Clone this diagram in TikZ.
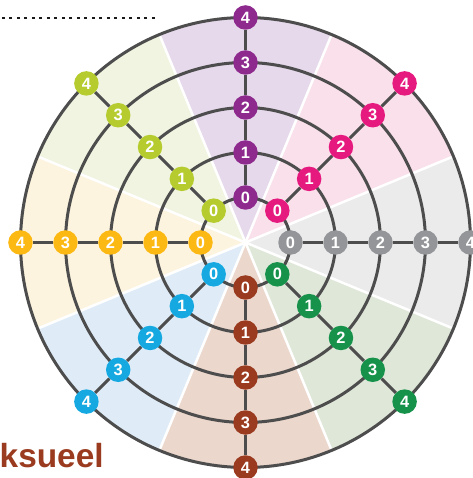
\documentclass[tikz,border=0pt]{standalone}
\usepackage{fontspec}
\setsansfont{Liberation Sans}

\definecolor{ringgray}{HTML}{4D4D4D}
\definecolor{purpnode}{HTML}{8E2A8D}
\definecolor{purpbg}{HTML}{E6D9EB}
\definecolor{magnode}{HTML}{E6197F}
\definecolor{magbg}{HTML}{F9E0EA}
\definecolor{graynode}{HTML}{939598}
\definecolor{graybg}{HTML}{EBEBEB}
\definecolor{grnnode}{HTML}{16924B}
\definecolor{grnbg}{HTML}{DFE7D8}
\definecolor{brnnode}{HTML}{9A3A1E}
\definecolor{brnbg}{HTML}{EBD7CC}
\definecolor{blunode}{HTML}{16A9E1}
\definecolor{blubg}{HTML}{DFECF8}
\definecolor{yelnode}{HTML}{FDB913}
\definecolor{yelbg}{HTML}{FDF4DF}
\definecolor{limnode}{HTML}{B6CC2E}
\definecolor{limbg}{HTML}{F0F4E0}

\tikzset{
 ring/.style={draw=ringgray,line width=3pt},
 spoke/.style={draw=ringgray,line width=3pt},
 gap/.style={draw=white,line width=2.5pt},
 numdot/.style={shape=circle,inner sep=0pt,minimum size=24.5pt,text=white,
   font=\sffamily\bfseries\fontsize{16.4}{16}\selectfont},
 dotrow/.style={draw=black!90,line width=2.7pt,dash pattern=on 2.7pt off 4.8pt},
}

\begin{document}
\begin{tikzpicture}[x=45pt,y=45pt]
 \useasboundingbox (-245.5pt,-235.5pt) rectangle (226.5pt,242.5pt);
 \coordinate (ctr) at (0,0);
 % sectors
 \fill[purpbg] (ctr) -- (67.5:5) arc[start angle=67.5,end angle=112.5,radius=5] -- cycle;
 \fill[magbg] (ctr) -- (22.5:5) arc[start angle=22.5,end angle=67.5,radius=5] -- cycle;
 \fill[graybg] (ctr) -- (-22.5:5) arc[start angle=-22.5,end angle=22.5,radius=5] -- cycle;
 \fill[grnbg] (ctr) -- (-67.5:5) arc[start angle=-67.5,end angle=-22.5,radius=5] -- cycle;
 \fill[brnbg] (ctr) -- (-112.5:5) arc[start angle=-112.5,end angle=-67.5,radius=5] -- cycle;
 \fill[blubg] (ctr) -- (-157.5:5) arc[start angle=-157.5,end angle=-112.5,radius=5] -- cycle;
 \fill[yelbg] (ctr) -- (157.5:5) arc[start angle=157.5,end angle=202.5,radius=5] -- cycle;
 \fill[limbg] (ctr) -- (112.5:5) arc[start angle=112.5,end angle=157.5,radius=5] -- cycle;
 % white gaps
 \draw[gap] (ctr) -- (22.5:5);
 \draw[gap] (ctr) -- (67.5:5);
 \draw[gap] (ctr) -- (112.5:5);
 \draw[gap] (ctr) -- (157.5:5);
 \draw[gap] (ctr) -- (202.5:5);
 \draw[gap] (ctr) -- (247.5:5);
 \draw[gap] (ctr) -- (292.5:5);
 \draw[gap] (ctr) -- (337.5:5);
 % rings
 \draw[ring] (ctr) circle (1);
 \draw[ring] (ctr) circle (2);
 \draw[ring] (ctr) circle (3);
 \draw[ring] (ctr) circle (4);
 \draw[ring] (ctr) circle (5);
 % purple
 \node (pur 0) at (90:1) [numdot,fill=purpnode] {0};
 \node (pur 1) at (90:2) [numdot,fill=purpnode] {1};
 \node (pur 2) at (90:3) [numdot,fill=purpnode] {2};
 \node (pur 3) at (90:4) [numdot,fill=purpnode] {3};
 \node (pur 4) at (90:5) [numdot,fill=purpnode] {4};
 % magenta
 \node (mag 0) at (45:1) [numdot,fill=magnode] {0};
 \node (mag 1) at (45:2) [numdot,fill=magnode] {1};
 \node (mag 2) at (45:3) [numdot,fill=magnode] {2};
 \node (mag 3) at (45:4) [numdot,fill=magnode] {3};
 \node (mag 4) at (45:5) [numdot,fill=magnode] {4};
 % gray
 \node (gry 0) at (0:1) [numdot,fill=graynode] {0};
 \node (gry 1) at (0:2) [numdot,fill=graynode] {1};
 \node (gry 2) at (0:3) [numdot,fill=graynode] {2};
 \node (gry 3) at (0:4) [numdot,fill=graynode] {3};
 \node (gry 4) at (0:5) [numdot,fill=graynode] {4};
 % green
 \node (grn 0) at (-45:1) [numdot,fill=grnnode] {0};
 \node (grn 1) at (-45:2) [numdot,fill=grnnode] {1};
 \node (grn 2) at (-45:3) [numdot,fill=grnnode] {2};
 \node (grn 3) at (-45:4) [numdot,fill=grnnode] {3};
 \node (grn 4) at (-45:5) [numdot,fill=grnnode] {4};
 % brown
 \node (brn 0) at (-90:1) [numdot,fill=brnnode] {0};
 \node (brn 1) at (-90:2) [numdot,fill=brnnode] {1};
 \node (brn 2) at (-90:3) [numdot,fill=brnnode] {2};
 \node (brn 3) at (-90:4) [numdot,fill=brnnode] {3};
 \node (brn 4) at (-90:5) [numdot,fill=brnnode] {4};
 % blue
 \node (blu 0) at (-135:1) [numdot,fill=blunode] {0};
 \node (blu 1) at (-135:2) [numdot,fill=blunode] {1};
 \node (blu 2) at (-135:3) [numdot,fill=blunode] {2};
 \node (blu 3) at (-135:4) [numdot,fill=blunode] {3};
 \node (blu 4) at (-135:5) [numdot,fill=blunode] {4};
 % yellow
 \node (yel 0) at (180:1) [numdot,fill=yelnode] {0};
 \node (yel 1) at (180:2) [numdot,fill=yelnode] {1};
 \node (yel 2) at (180:3) [numdot,fill=yelnode] {2};
 \node (yel 3) at (180:4) [numdot,fill=yelnode] {3};
 \node (yel 4) at (180:5) [numdot,fill=yelnode] {4};
 % lime
 \node (lim 0) at (135:1) [numdot,fill=limnode] {0};
 \node (lim 1) at (135:2) [numdot,fill=limnode] {1};
 \node (lim 2) at (135:3) [numdot,fill=limnode] {2};
 \node (lim 3) at (135:4) [numdot,fill=limnode] {3};
 \node (lim 4) at (135:5) [numdot,fill=limnode] {4};
 % spokes
 \draw[spoke] (pur 0) -- (pur 1) -- (pur 2) -- (pur 3) -- (pur 4);
 \draw[spoke] (mag 0) -- (mag 1) -- (mag 2) -- (mag 3) -- (mag 4);
 \draw[spoke] (gry 0) -- (gry 1) -- (gry 2) -- (gry 3) -- (gry 4);
 \draw[spoke] (grn 0) -- (grn 1) -- (grn 2) -- (grn 3) -- (grn 4);
 \draw[spoke] (brn 0) -- (brn 1) -- (brn 2) -- (brn 3) -- (brn 4);
 \draw[spoke] (blu 0) -- (blu 1) -- (blu 2) -- (blu 3) -- (blu 4);
 \draw[spoke] (yel 0) -- (yel 1) -- (yel 2) -- (yel 3) -- (yel 4);
 \draw[spoke] (lim 0) -- (lim 1) -- (lim 2) -- (lim 3) -- (lim 4);
 % dotted rule and label
 \coordinate (dots start) at (-243.5pt,224.5pt);
 \coordinate (dots end) at (-90.5pt,224.5pt);
 \draw[dotrow] (dots start) -- (dots end);
 \node (brand) at (-246pt,-224.5pt) [anchor=base west,inner sep=0pt,text=brnnode,
   font=\sffamily\bfseries\fontsize{33.4}{34}\selectfont] {ksueel};
\end{tikzpicture}
\end{document}
